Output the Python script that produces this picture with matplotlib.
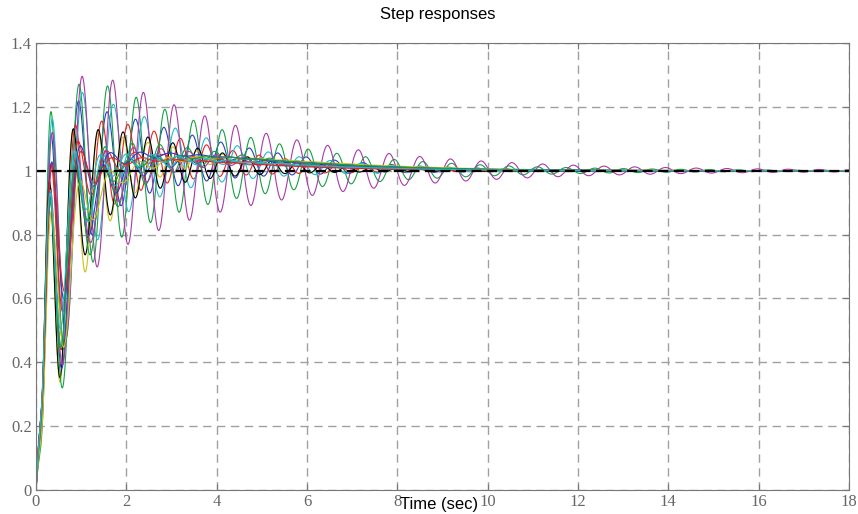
import numpy as np
import matplotlib
matplotlib.use("Agg")
import matplotlib.pyplot as plt

# step responses of the sampled closed loops, one entry per curve
# (modal parameters read off the picture: ringing freq, decay, amplitudes,
#  slow lag and slow overshoot)
COLORS = ["b", "g", "r", "c", "m", "y", "k",
          "b", "g", "r", "c", "m", "y",
          "b", "g", "r", "c"]
OMEGA = [9.97, 9.90, 10.8, 9.15, 9.24, 11.4, 11.4,
         10.5, 10.3, 10.0, 10.6, 10.2, 9.6,
         9.5, 10.8, 9.3, 11.0]
A_SLOW = [0.30, 0.42, 0.28, 0.40, 0.43, 0.60, 0.30,
          0.20, 0.35, 0.15, 0.20, 0.30, 0.15,
          0.15, 0.15, 0.12, 0.15]
SIG_SLOW = [0.40, 0.32, 0.45, 0.45, 0.27, 0.90, 0.50,
            0.80, 0.70, 0.90, 0.80, 0.70, 0.90,
            1.10, 1.00, 1.20, 0.90]
A_FAST = [0.30, 0.30, 0.22, 0.24, 0.12, 0.02, 0.27,
          0.35, 0.24, 0.37, 0.32, 0.24, 0.35,
          0.37, 0.35, 0.38, 0.32]
TAU_FAST = [0.75, 0.50, 0.70, 0.70, 0.60, 0.60, 0.70,
            0.75, 0.70, 0.75, 0.75, 0.70, 0.75,
            0.75, 0.75, 0.75, 0.75]
TAU_RISE = [0.35, 0.34, 0.40, 0.35, 0.34, 0.28, 0.36,
            0.35, 0.34, 0.35, 0.35, 0.34, 0.40,
            0.35, 0.35, 0.35, 0.35]
LAG = [0.0, 0.0, 0.0, 0.0, 0.0, 0.30, 0.12,
       0.25, 0.40, 0.0, 0.15, 0.30, 0.20,
       0.0, 0.15, 0.0, 0.05]
TAU_LAG = [1.0, 1.0, 1.0, 1.0, 1.0, 1.0, 1.0,
           1.2, 0.9, 1.0, 1.0, 1.0, 1.5,
           1.0, 1.5, 1.0, 1.0]
BUMP = [0.04, 0.025, 0.04, 0.035, 0.02, 0.05, 0.03,
        0.05, 0.05, 0.04, 0.04, 0.045, 0.06,
        0.05, 0.06, 0.035, 0.04]
BUMP_T = [2.6, 2.3, 2.3, 2.6, 2.3, 2.8, 2.3,
          2.8, 2.8, 2.6, 2.5, 2.7, 3.0,
          2.9, 2.8, 2.5, 2.7]

T_END = 18.0
X_TICKS = [0, 2, 4, 6, 8, 10, 12, 14, 16, 18]
Y_TICKS = [0, 0.2, 0.4, 0.6, 0.8, 1, 1.2, 1.4]
Y_LABELS = ["0", "0.2", "0.4", "0.6", "0.8", "1", "1.2", "1.4"]

MATLAB = {"b": "#2a3cc0", "g": "#16a045", "r": "#e52020", "c": "#1fbcc4",
          "m": "#a83aa8", "y": "#c8c21c", "k": "#000000"}


def response(t, i):
    rise = (1 - np.exp(-t / TAU_RISE[i])) * (1 - LAG[i] * np.exp(-t / TAU_LAG[i]))
    amp = A_SLOW[i] * np.exp(-SIG_SLOW[i] * t) + A_FAST[i] * np.exp(-(t / TAU_FAST[i]) ** 2)
    ramp = 1 - np.exp(-(t / 0.2) ** 3)
    u = t / BUMP_T[i]
    bump = BUMP[i] * u ** 2 * np.exp(2 * (1 - u))
    return rise + bump - amp * np.cos(OMEGA[i] * t) * ramp


t = np.linspace(0, T_END, 3601)

fig = plt.figure(figsize=(8.58, 5.14), dpi=100)
ax = fig.add_axes([36 / 858, 24 / 514, 813 / 858, 447 / 514])

for i, c in enumerate(COLORS):
    ax.plot(t, response(t, i), color=MATLAB[c], lw=0.8)
ax.plot([0, T_END], [1, 1], color="k", lw=1.6, dashes=(4.5, 2.5))

ax.set_xlim(0, T_END)
ax.set_ylim(0, 1.4)
ax.set_xticks(X_TICKS)
ax.set_yticks(Y_TICKS)
ax.set_xticklabels([str(v) for v in X_TICKS])
ax.set_yticklabels(Y_LABELS)
ax.grid(True, color="#a0a0a0", lw=1.0, dashes=(6, 4))
for s in ax.spines.values():
    s.set_color("#777777")
ax.tick_params(direction="in", length=4, colors="#777777", labelcolor="#666666",
               top=True, right=True, labelsize=12, pad=3)
for lab in ax.get_xticklabels() + ax.get_yticklabels():
    lab.set_family("Liberation Serif")

fig.text(438 / 858, 1 - 15 / 514, "Step responses", ha="center", va="center",
         family="Liberation Sans", fontsize=12)
fig.text(439 / 858, 1 - 504 / 514, "Time (sec)", ha="center", va="center",
         family="Liberation Sans", fontsize=12)

fig.savefig("out.png", dpi=100)
